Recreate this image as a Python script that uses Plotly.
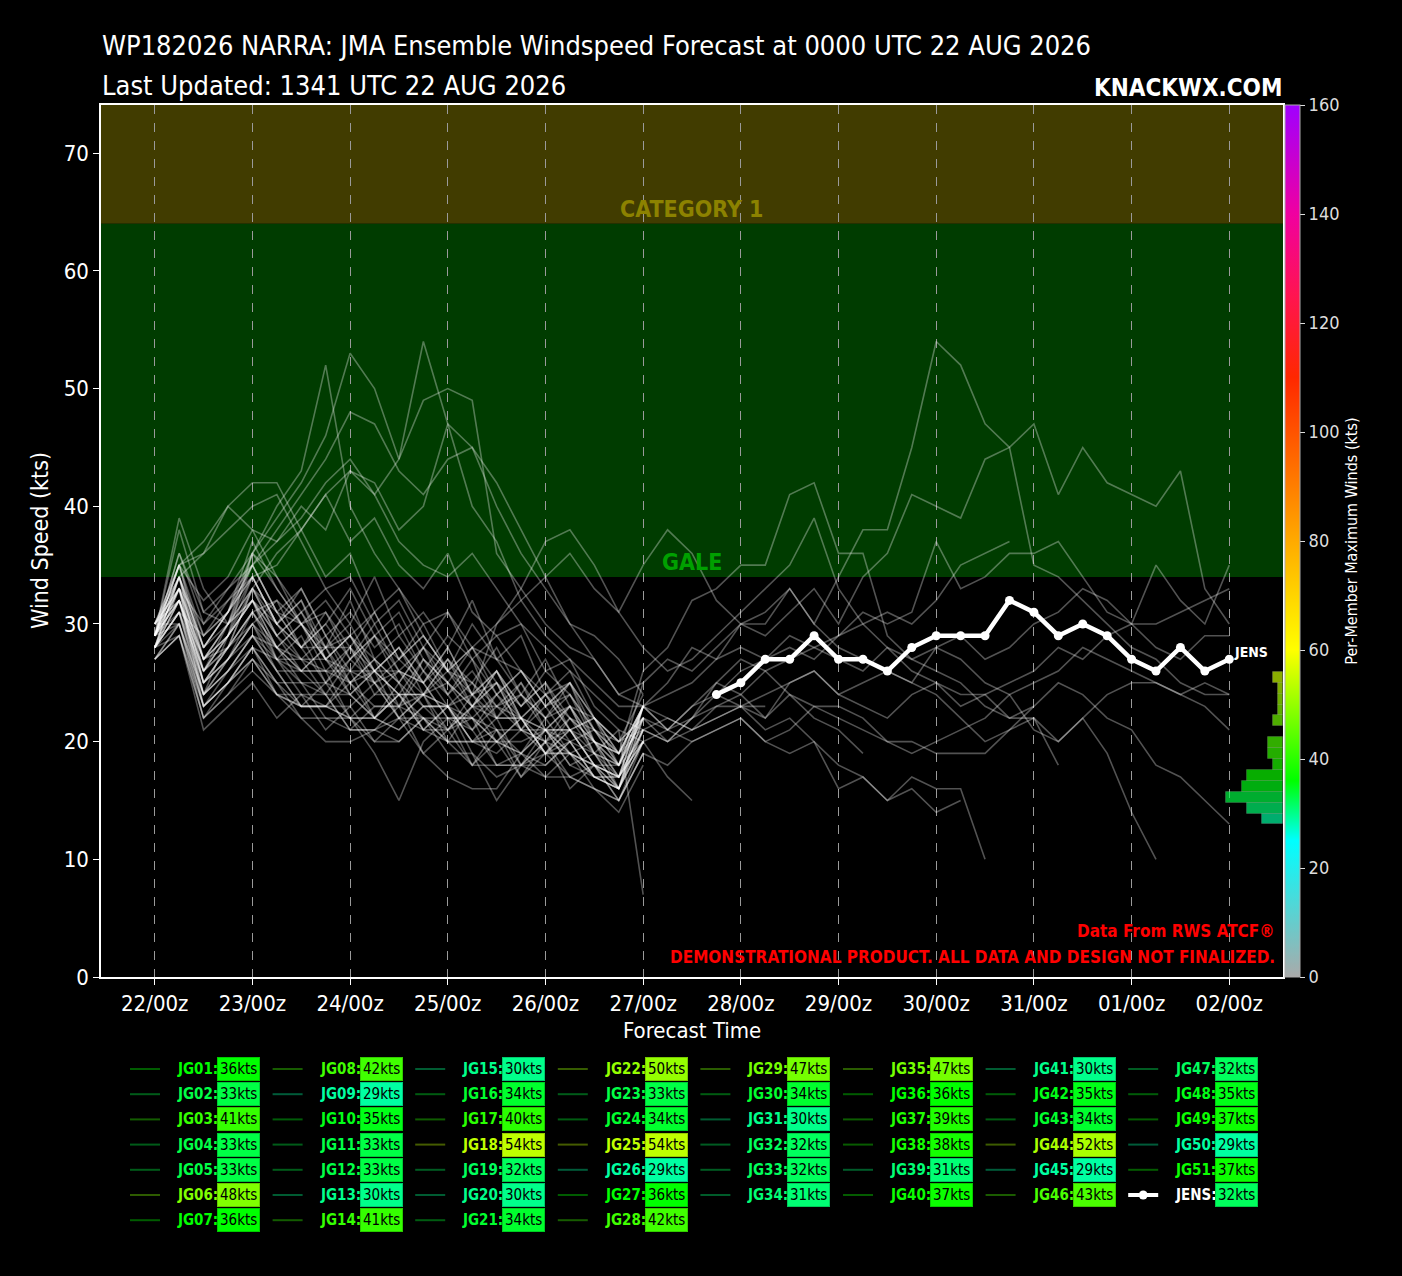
import numpy as np
import pandas as pd
import plotly.graph_objects as go

init_time = '2026-08-22 00:00'
n_steps = 45  # 6-hourly, 0-264h

# per-member forecast winds (kts), 6-hourly from init; shorter lists = member ends early
jg01 = [28, 33, 26, 30, 36, 33, 30, 31, 28, 25, 27, 29, 26, 24, 26, 23, 25, 22, 21, 18, 23]
jg02 = [29, 33, 24, 27, 30, 28, 26, 26, 25, 23, 23, 24, 26, 25, 23, 21, 20, 22, 19, 17, 23]
jg03 = [30, 34, 36, 38, 40, 41, 37, 33, 34, 30, 32, 28, 31, 27, 29, 26, 23, 25, 21, 20, 22]
jg04 = [30, 32, 25, 28, 33, 30, 28, 28, 29, 27, 25, 23, 23, 24, 22, 22, 21, 19, 20, 16, 20]
jg05 = [29, 33, 23, 26, 29, 26, 23, 23, 23, 25, 26, 25, 28, 24, 21, 21, 20, 19, 18, 18, 23]
jg06 = [28, 32, 27, 30, 35, 38, 41, 44, 48, 47, 43, 41, 44, 45, 40, 36, 33, 30, 27, 24, 25]
jg07 = [28, 31, 24, 29, 36, 34, 30, 27, 24, 26, 22, 24, 20, 23, 26, 22, 19, 21, 18, 17, 20]
jg08 = [29, 35, 37, 40, 42, 42, 38, 34, 36, 31, 33, 29, 26, 30, 27, 24, 27, 23, 22, 20, 21]
jg09 = [27, 29, 22, 24, 26, 24, 23, 23, 22, 20, 20, 22, 19, 19, 17, 18, 20, 21, 18, 15, 19]
jg10 = [30, 35, 27, 29, 32, 30, 33, 29, 26, 29, 31, 27, 25, 28, 24, 26, 23, 24, 21, 19, 23]
jg11 = [29, 32, 26, 28, 33, 31, 30, 27, 26, 26, 28, 25, 22, 22, 21, 19, 22, 23, 20, 19, 21]
jg12 = [28, 33, 25, 27, 31, 32, 28, 25, 27, 29, 26, 23, 21, 24, 25, 21, 19, 22, 20, 18, 22]
jg13 = [29, 30, 23, 25, 28, 24, 23, 23, 25, 26, 24, 24, 23, 20, 20, 19, 21, 18, 17, 17, 20]
jg14 = [28, 31, 26, 29, 33, 36, 38, 41, 37, 39, 35, 33, 36, 31, 29, 30, 26, 27, 23, 21, 20]
jg15 = [30, 30, 24, 26, 29, 28, 27, 27, 25, 22, 21, 23, 23, 21, 23, 24, 22, 19, 18, 16, 22]
jg16 = [29, 34, 25, 28, 31, 28, 30, 27, 29, 25, 23, 27, 24, 27, 22, 25, 21, 23, 19, 18, 23]
jg17 = [29, 35, 36, 40, 38, 34, 31, 33, 30, 34, 29, 31, 28, 32, 27, 29, 24, 26, 22, 20, 22]
jg18 = [29, 33, 30, 33, 36, 39, 42, 46, 53, 50, 44, 54, 47, 40, 37, 32, 29, 27, 25, 23, 23]
jg19 = [28, 32, 24, 27, 30, 26, 23, 25, 22, 19, 15, 20, 22, 18, 21, 17, 20, 16, 18, 15, 19]
jg20 = [27, 30, 22, 25, 27, 24, 22, 20, 20, 21, 23, 19, 17, 16, 16, 19, 18, 20, 17, 16, 20]
jg21 = [30, 34, 26, 29, 32, 29, 31, 28, 32, 27, 25, 28, 26, 23, 25, 21, 24, 22, 20, 17, 23]
jg22 = [30, 35, 32, 34, 38, 37, 39, 42, 44, 41, 44, 49, 50, 49, 36, 33, 30, 28, 27, 24, 23]
jg23 = [29, 33, 27, 30, 32, 27, 24, 23, 26, 22, 24, 21, 23, 19, 15, 18, 20, 17, 16, 14, 18]
jg24 = [28, 34, 28, 31, 34, 30, 28, 31, 27, 30, 26, 24, 27, 25, 28, 24, 22, 25, 20, 17, 21]
jg25 = [29, 32, 25, 28, 31, 27, 29, 25, 28, 24, 26, 28, 25, 23, 26, 22, 24, 21, 22, 18,
        25, 27, 26, 28, 30, 31, 33, 30, 34, 38, 38, 45, 54, 52, 47, 45, 35, 34, 32, 30,
        28, 27, 25, 24, 24]
jg26 = [27, 29, 21, 23, 25, 22, 24, 21, 23, 20, 22, 19, 21, 18, 20, 17, 19, 20, 19, 21, 7]
jg27 = [29, 36, 31, 33, 35, 31, 33, 29, 31, 28, 30, 26, 29, 27, 24, 26, 23, 25, 22, 20, 24]
jg28 = [29, 34, 28, 31, 35, 31, 28, 30, 33, 29, 27, 30, 26, 28, 25, 23, 26, 24, 21, 19,
        26, 28, 32, 33, 35, 35, 41, 42, 36, 36, 29, 27, 26, 25, 23, 22, 23, 25, 24, 22,
        21, 18, 17, 15, 13]
jg29 = [28, 31, 29, 32, 34, 35, 38, 41, 43, 42, 38, 40, 47, 45, 42, 38, 34, 30, 29, 27, 24]
jg30 = [28, 32, 26, 29, 34, 30, 27, 29, 25, 27, 23, 26, 24, 21, 24, 22, 20, 23, 19, 18, 22]
jg31 = [28, 30, 24, 26, 28, 27, 26, 26, 22, 22, 24, 22, 20, 20, 21, 18, 18, 20, 17, 17, 20]
jg32 = [29, 32, 25, 27, 29, 27, 25, 22, 22, 24, 24, 21, 21, 22, 20, 20, 21, 18, 19, 16, 21]
jg33 = [30, 32, 27, 28, 30, 32, 30, 28, 28, 26, 24, 24, 25, 23, 22, 22, 19, 19, 17, 16, 23]
jg34 = [29, 31, 23, 25, 28, 25, 25, 24, 21, 21, 22, 21, 20, 18, 18, 19, 17, 17, 16, 15, 20]
jg35 = [30, 33, 27, 29, 32, 29, 26, 28, 25, 27, 29, 26, 23, 25, 22, 24, 21, 23, 20, 19,
        23, 25, 28, 27, 30, 29, 31, 33, 30, 34, 36, 41, 40, 39, 44, 45, 47, 41, 45, 42,
        41, 40, 43, 33, 30]
jg36 = [29, 36, 30, 32, 35, 31, 28, 30, 27, 29, 25, 28, 24, 26, 23, 25, 22, 24, 20, 19,
        23, 21, 22, 25, 27, 26, 24, 22, 21, 19]
jg37 = [29, 39, 33, 30, 32, 28, 30, 26, 28, 31, 27, 29, 26, 28, 30, 33, 37, 38, 35, 31,
        28, 26, 27, 29, 31, 33, 35, 39, 33, 30, 28, 26, 25, 24, 24, 22, 22, 20, 22, 19,
        14, 10]
jg38 = [29, 38, 31, 30, 33, 29, 31, 27, 29, 26, 28, 25, 27, 24, 30, 32, 34, 36, 33, 31,
        35, 38, 36, 32, 30, 30, 33, 30, 28, 27, 26, 25, 24, 22, 20, 21, 23]
jg39 = [28, 31, 24, 26, 29, 26, 26, 24, 24, 22, 24, 24, 23, 20, 20, 19, 21, 21, 19, 16,
        23, 22, 21, 23, 24, 22, 25, 26, 24, 25, 26, 25, 28, 27, 25, 24, 21, 20, 22, 24,
        25, 25, 24, 23, 21]
jg40 = [28, 31, 25, 27, 30, 27, 27, 26, 26, 25, 22, 22, 21, 23, 23, 22, 19, 19, 18, 17,
        21, 20, 22, 24, 26, 27, 28, 27, 29, 30, 31, 30, 32, 35, 36, 37]
jg41 = [27, 30, 23, 25, 28, 25, 23, 23, 22, 22, 21, 23, 23, 22, 18, 18, 19, 17, 18, 16,
        20, 21, 23, 24, 23, 24, 25, 26, 24, 23, 22, 24, 25, 23, 24, 25, 26, 28, 27, 29,
        30, 28, 27, 29, 29]
jg42 = [29, 35, 28, 30, 33, 29, 27, 24, 27, 25, 22, 24, 21, 23, 20, 22, 19, 21, 18, 17,
        23, 21, 20, 21, 22, 20, 19, 20, 18, 17, 15, 16, 14, 15]
jg43 = [28, 34, 27, 29, 32, 28, 26, 28, 24, 22, 25, 21, 23, 20, 22, 18, 21, 19, 17, 16,
        22, 20, 21, 22, 23, 21, 22, 20, 16, 17, 15, 17, 16, 16, 10]
jg44 = [29, 34, 28, 31, 36, 40, 43, 52, 40, 36, 33, 30, 31, 28, 27, 26, 24, 25, 22, 19, 22]
jg45 = [28, 29, 23, 25, 27, 25, 22, 22, 21, 23, 23, 22, 20, 20, 19, 21, 21, 20, 17, 16,
        21, 20, 22, 23, 23, 23]
jg46 = [30, 33, 28, 31, 35, 37, 40, 38, 43, 41, 37, 35, 34, 36, 33, 30, 28, 26, 24, 22, 21]
jg47 = [29, 32, 26, 28, 31, 28, 25, 25, 24, 26, 26, 25, 22, 22, 20, 22, 21, 21, 18, 17,
        21, 22, 21, 22, 23, 22, 24, 23, 23, 22, 20, 20, 19, 19, 19, 21, 22, 18]
jg48 = [29, 35, 29, 31, 34, 30, 32, 27, 29, 26, 28, 24, 27, 23, 25, 22, 24, 21, 20, 18,
        20, 17, 15]
jg49 = [30, 33, 27, 30, 34, 30, 32, 28, 30, 26, 24, 27, 25, 22, 24, 21, 23, 20, 21, 18,
        22, 21, 23, 25, 24, 26, 27, 28, 29, 31, 30, 31, 37, 33, 34, 36, 36, 37, 34, 31,
        30, 35, 32, 30, 35]
jg50 = [27, 29, 22, 24, 27, 24, 24, 24, 21, 21, 20, 22, 22, 21, 18, 18, 17, 19, 16, 15,
        19, 18, 20, 21, 22, 20, 21, 23, 22, 21, 20, 19, 20, 21, 22, 24, 25, 26, 28, 27,
        26, 25, 24, 25, 24]
jg51 = [28, 34, 29, 31, 37, 33, 30, 32, 29, 31, 27, 25, 28, 24, 26, 23, 25, 21, 22, 19,
        23, 24, 25, 27, 28, 27, 29, 28, 27, 26, 28, 27, 28, 29, 27, 28, 30, 31, 33, 32,
        30, 30, 31, 32, 33]

# ensemble mean, starts at step 23 (27/18z)
jens = [24, 25, 27, 27, 29, 27, 27, 26, 28, 29, 29, 29, 32, 31, 29, 30, 29, 27, 26, 28, 26, 27]
jens_start = 23

members = [jg01, jg02, jg03, jg04, jg05, jg06, jg07, jg08, jg09, jg10,
           jg11, jg12, jg13, jg14, jg15, jg16, jg17, jg18, jg19, jg20,
           jg21, jg22, jg23, jg24, jg25, jg26, jg27, jg28, jg29, jg30,
           jg31, jg32, jg33, jg34, jg35, jg36, jg37, jg38, jg39, jg40,
           jg41, jg42, jg43, jg44, jg45, jg46, jg47, jg48, jg49, jg50, jg51]
names = ['JG%02d' % (i + 1) for i in range(len(members))]

# colour scale for max winds
cb_stops = [0, 25, 36, 60, 80, 110, 125, 140, 160]
cb_colors = [(170, 170, 170), (0, 255, 255), (0, 255, 0), (255, 255, 0), (255, 170, 0),
             (255, 40, 0), (255, 20, 80), (240, 0, 160), (160, 0, 255)]

FONT = 'DejaVu Sans Condensed, Liberation Sans Narrow, Roboto, sans-serif'


def wind_rgb(v):
    v = min(max(v, 0), 160)
    for i in range(len(cb_stops) - 1):
        if v <= cb_stops[i + 1]:
            f = (v - cb_stops[i]) / (cb_stops[i + 1] - cb_stops[i])
            c0, c1 = cb_colors[i], cb_colors[i + 1]
            return tuple(int(round(c0[k] + f * (c1[k] - c0[k]))) for k in range(3))
    return cb_colors[-1]


def rgb(c, a=1.0):
    return 'rgba(%d,%d,%d,%.2f)' % (c[0], c[1], c[2], a)


# pixel -> paper helpers (plot area 101..1283 x 105..977)
L, R, T, B = 101, 1283, 105, 977


def px(x):
    return (x - L) / (R - L)


def py(y):
    return (B - y) / (B - T)


times = pd.date_range(init_time, periods=n_steps, freq='6h')
pad = pd.Timedelta(hours=13.2)
ytop = 74.1

fig = go.Figure()

for vals in members:
    fig.add_trace(go.Scatter(
        x=times[:len(vals)], y=vals, mode='lines',
        line=dict(color='rgba(255,255,255,0.32)', width=1.6),
        showlegend=False, hoverinfo='skip'))

fig.add_trace(go.Scatter(
    x=times[jens_start:jens_start + len(jens)], y=jens, mode='lines+markers',
    line=dict(color='white', width=4.5), marker=dict(color='white', size=9),
    showlegend=False))

# per-member max winds and histogram (on colour bar scale)
max_winds = [max(v) for v in members]
jens_max = max(jens)
bins = np.arange(0, 162, 2)
counts, edges = np.histogram(max_winds + [jens_max], bins=bins)
keep = counts > 0
centers = (edges[:-1] + 1)[keep]
fig.add_trace(go.Bar(
    x=counts[keep], y=centers, orientation='h', width=2,
    xaxis='x2', yaxis='y2',
    marker=dict(color=[rgb(wind_rgb(c)) for c in centers], opacity=0.68,
                line=dict(color='rgba(255,255,255,0.2)', width=1)),
    showlegend=False, hoverinfo='skip'))

# colour bar
cscale = [[s / 160, rgb(c)] for s, c in zip(cb_stops, cb_colors)]
fig.add_trace(go.Scatter(
    x=[times[0]], y=[-50], mode='markers',
    marker=dict(color=[0], cmin=0, cmax=160, colorscale=cscale, showscale=True,
                colorbar=dict(
                    x=1.0017, xanchor='left', y=0.5, yanchor='middle', len=1,
                    thickness=15, xpad=0, ypad=0, outlinewidth=1, outlinecolor='#aaaaaa',
                    tickvals=list(range(0, 161, 20)), ticks='outside', ticklen=5,
                    tickcolor='#dddddd', tickfont=dict(family=FONT, size=18, color='#dddddd'),
                    title=dict(text='Per-Member Maximum Winds (kts)', side='right',
                               font=dict(family=FONT, size=16, color='white')))),
    showlegend=False, hoverinfo='skip'))

shapes = [
    dict(type='rect', xref='paper', yref='y', x0=0, x1=1, y0=64, y1=ytop,
         fillcolor='#413c00', line=dict(width=0), layer='below'),
    dict(type='rect', xref='paper', yref='y', x0=0, x1=1, y0=34, y1=64,
         fillcolor='#003c00', line=dict(width=0), layer='below'),
]

annotations = [
    dict(text='CATEGORY 1', x=0.5, y=64, xref='paper', yref='y', xanchor='center',
         yanchor='bottom', showarrow=False,
         font=dict(family=FONT, size=23, color='#8c8200', weight='bold')),
    dict(text='GALE', x=0.5, y=34, xref='paper', yref='y', xanchor='center',
         yanchor='bottom', showarrow=False,
         font=dict(family=FONT, size=23, color='#00a000', weight='bold')),
    dict(text='JENS', x=times[jens_start + len(jens) - 1], y=jens[-1] + 0.6, xref='x', yref='y',
         xanchor='left', yanchor='middle', xshift=3, showarrow=False,
         font=dict(family=FONT, size=14, color='white', weight='bold')),
    dict(text='WP182026 NARRA: JMA Ensemble Windspeed Forecast at 0000 UTC 22 AUG 2026',
         x=px(100), y=py(45), xref='paper', yref='paper', xanchor='left', yanchor='middle',
         showarrow=False, font=dict(family=FONT, size=27, color='white')),
    dict(text='Last Updated: 1341 UTC 22 AUG 2026',
         x=px(100), y=py(85), xref='paper', yref='paper', xanchor='left', yanchor='middle',
         showarrow=False, font=dict(family=FONT, size=27, color='white')),
    dict(text='KNACKWX.COM', x=px(1284), y=py(88), xref='paper', yref='paper',
         xanchor='right', yanchor='middle', showarrow=False,
         font=dict(family=FONT, size=24, color='white', weight='bold')),
    dict(text='Data From RWS ATCF®', x=px(1277), y=py(931), xref='paper', yref='paper',
         xanchor='right', yanchor='middle', showarrow=False,
         font=dict(family=FONT, size=17, color='#ff0000', weight='bold')),
    dict(text='DEMONSTRATIONAL PRODUCT. ALL DATA AND DESIGN NOT FINALIZED.',
         x=px(1277), y=py(957), xref='paper', yref='paper', xanchor='right',
         yanchor='middle', showarrow=False,
         font=dict(family=FONT, size=17, color='#ff0000', weight='bold')),
    dict(text='Wind Speed (kts)', x=px(40), y=py(541), xref='paper', yref='paper',
         xanchor='center', yanchor='middle', textangle=-90, showarrow=False,
         font=dict(family=FONT, size=23, color='white')),
    dict(text='Forecast Time', x=px(692), y=py(1030), xref='paper', yref='paper',
         xanchor='center', yanchor='middle', showarrow=False,
         font=dict(family=FONT, size=22, color='white')),
]

# custom legend: 4 columns of 7 then 4 columns of 6
entries = [(n, m) for n, m in zip(names, max_winds)] + [('JENS', jens_max)]
col_dx, row_dy = 142.6, 25.2
for k, (name, mx) in enumerate(entries):
    if k < 28:
        col, row = k // 7, k % 7
    else:
        col, row = 4 + (k - 28) // 6, (k - 28) % 6
    x0 = 130 + col_dx * col
    yy = py(1069 + row_dy * row)
    c = wind_rgb(mx)
    if name == 'JENS':
        shapes.append(dict(type='line', xref='paper', yref='paper', x0=px(x0), x1=px(x0 + 30),
                           y0=yy, y1=yy, line=dict(color='white', width=4)))
        shapes.append(dict(type='circle', xref='paper', yref='paper', fillcolor='white',
                           line=dict(width=0), x0=px(x0 + 10.5), x1=px(x0 + 19.5),
                           y0=yy - 4.5 / (B - T), y1=yy + 4.5 / (B - T)))
        label_color = 'white'
    else:
        shapes.append(dict(type='line', xref='paper', yref='paper', x0=px(x0), x1=px(x0 + 30),
                           y0=yy, y1=yy, line=dict(color=rgb(c, 0.36), width=2)))
        label_color = rgb(c)
    annotations.append(dict(text=name + ':', x=px(x0 + 45), y=yy, xref='paper', yref='paper',
                            xanchor='left', yanchor='middle', showarrow=False,
                            font=dict(family=FONT, size=15, color=label_color, weight='bold')))
    annotations.append(dict(text='%dkts' % mx, x=px(x0 + 87), y=yy, xref='paper', yref='paper',
                            xanchor='left', yanchor='middle', showarrow=False,
                            bgcolor=rgb(c), bordercolor=rgb(tuple(int(v * 0.8) for v in c)),
                            borderwidth=1, borderpad=2,
                            font=dict(family=FONT, size=15, color='black')))

fig.update_layout(
    width=1402, height=1276,
    margin=dict(l=L, r=1402 - R, t=T, b=1276 - B),
    paper_bgcolor='black', plot_bgcolor='black',
    showlegend=False,
    shapes=shapes, annotations=annotations,
    xaxis=dict(type='date', range=[times[0] - pad, times[-1] + pad],
               tick0=times[0], dtick=86400000, tickformat='%d/%Hz',
               showgrid=True, gridcolor='#9a9a9a', griddash='dash', gridwidth=1,
               showline=True, linecolor='white', linewidth=1.5, mirror=True,
               ticks='outside', ticklen=6, tickcolor='white', zeroline=False,
               tickfont=dict(family=FONT, size=22, color='white')),
    yaxis=dict(range=[0, ytop], tickvals=list(range(0, 71, 10)), showgrid=False,
               showline=True, linecolor='white', linewidth=1.5, mirror=True,
               ticks='outside', ticklen=6, tickcolor='white', zeroline=False,
               tickfont=dict(family=FONT, size=22, color='white')),
    xaxis2=dict(overlaying='x', range=[230, 0], visible=False, fixedrange=True),
    yaxis2=dict(overlaying='y', range=[0, 160], visible=False, fixedrange=True),
    bargap=0,
)

fig.write_html('out.html', config={'displayModeBar': False},
               post_script="document.body.style.margin='0';"
                           "document.body.style.background='black';")
